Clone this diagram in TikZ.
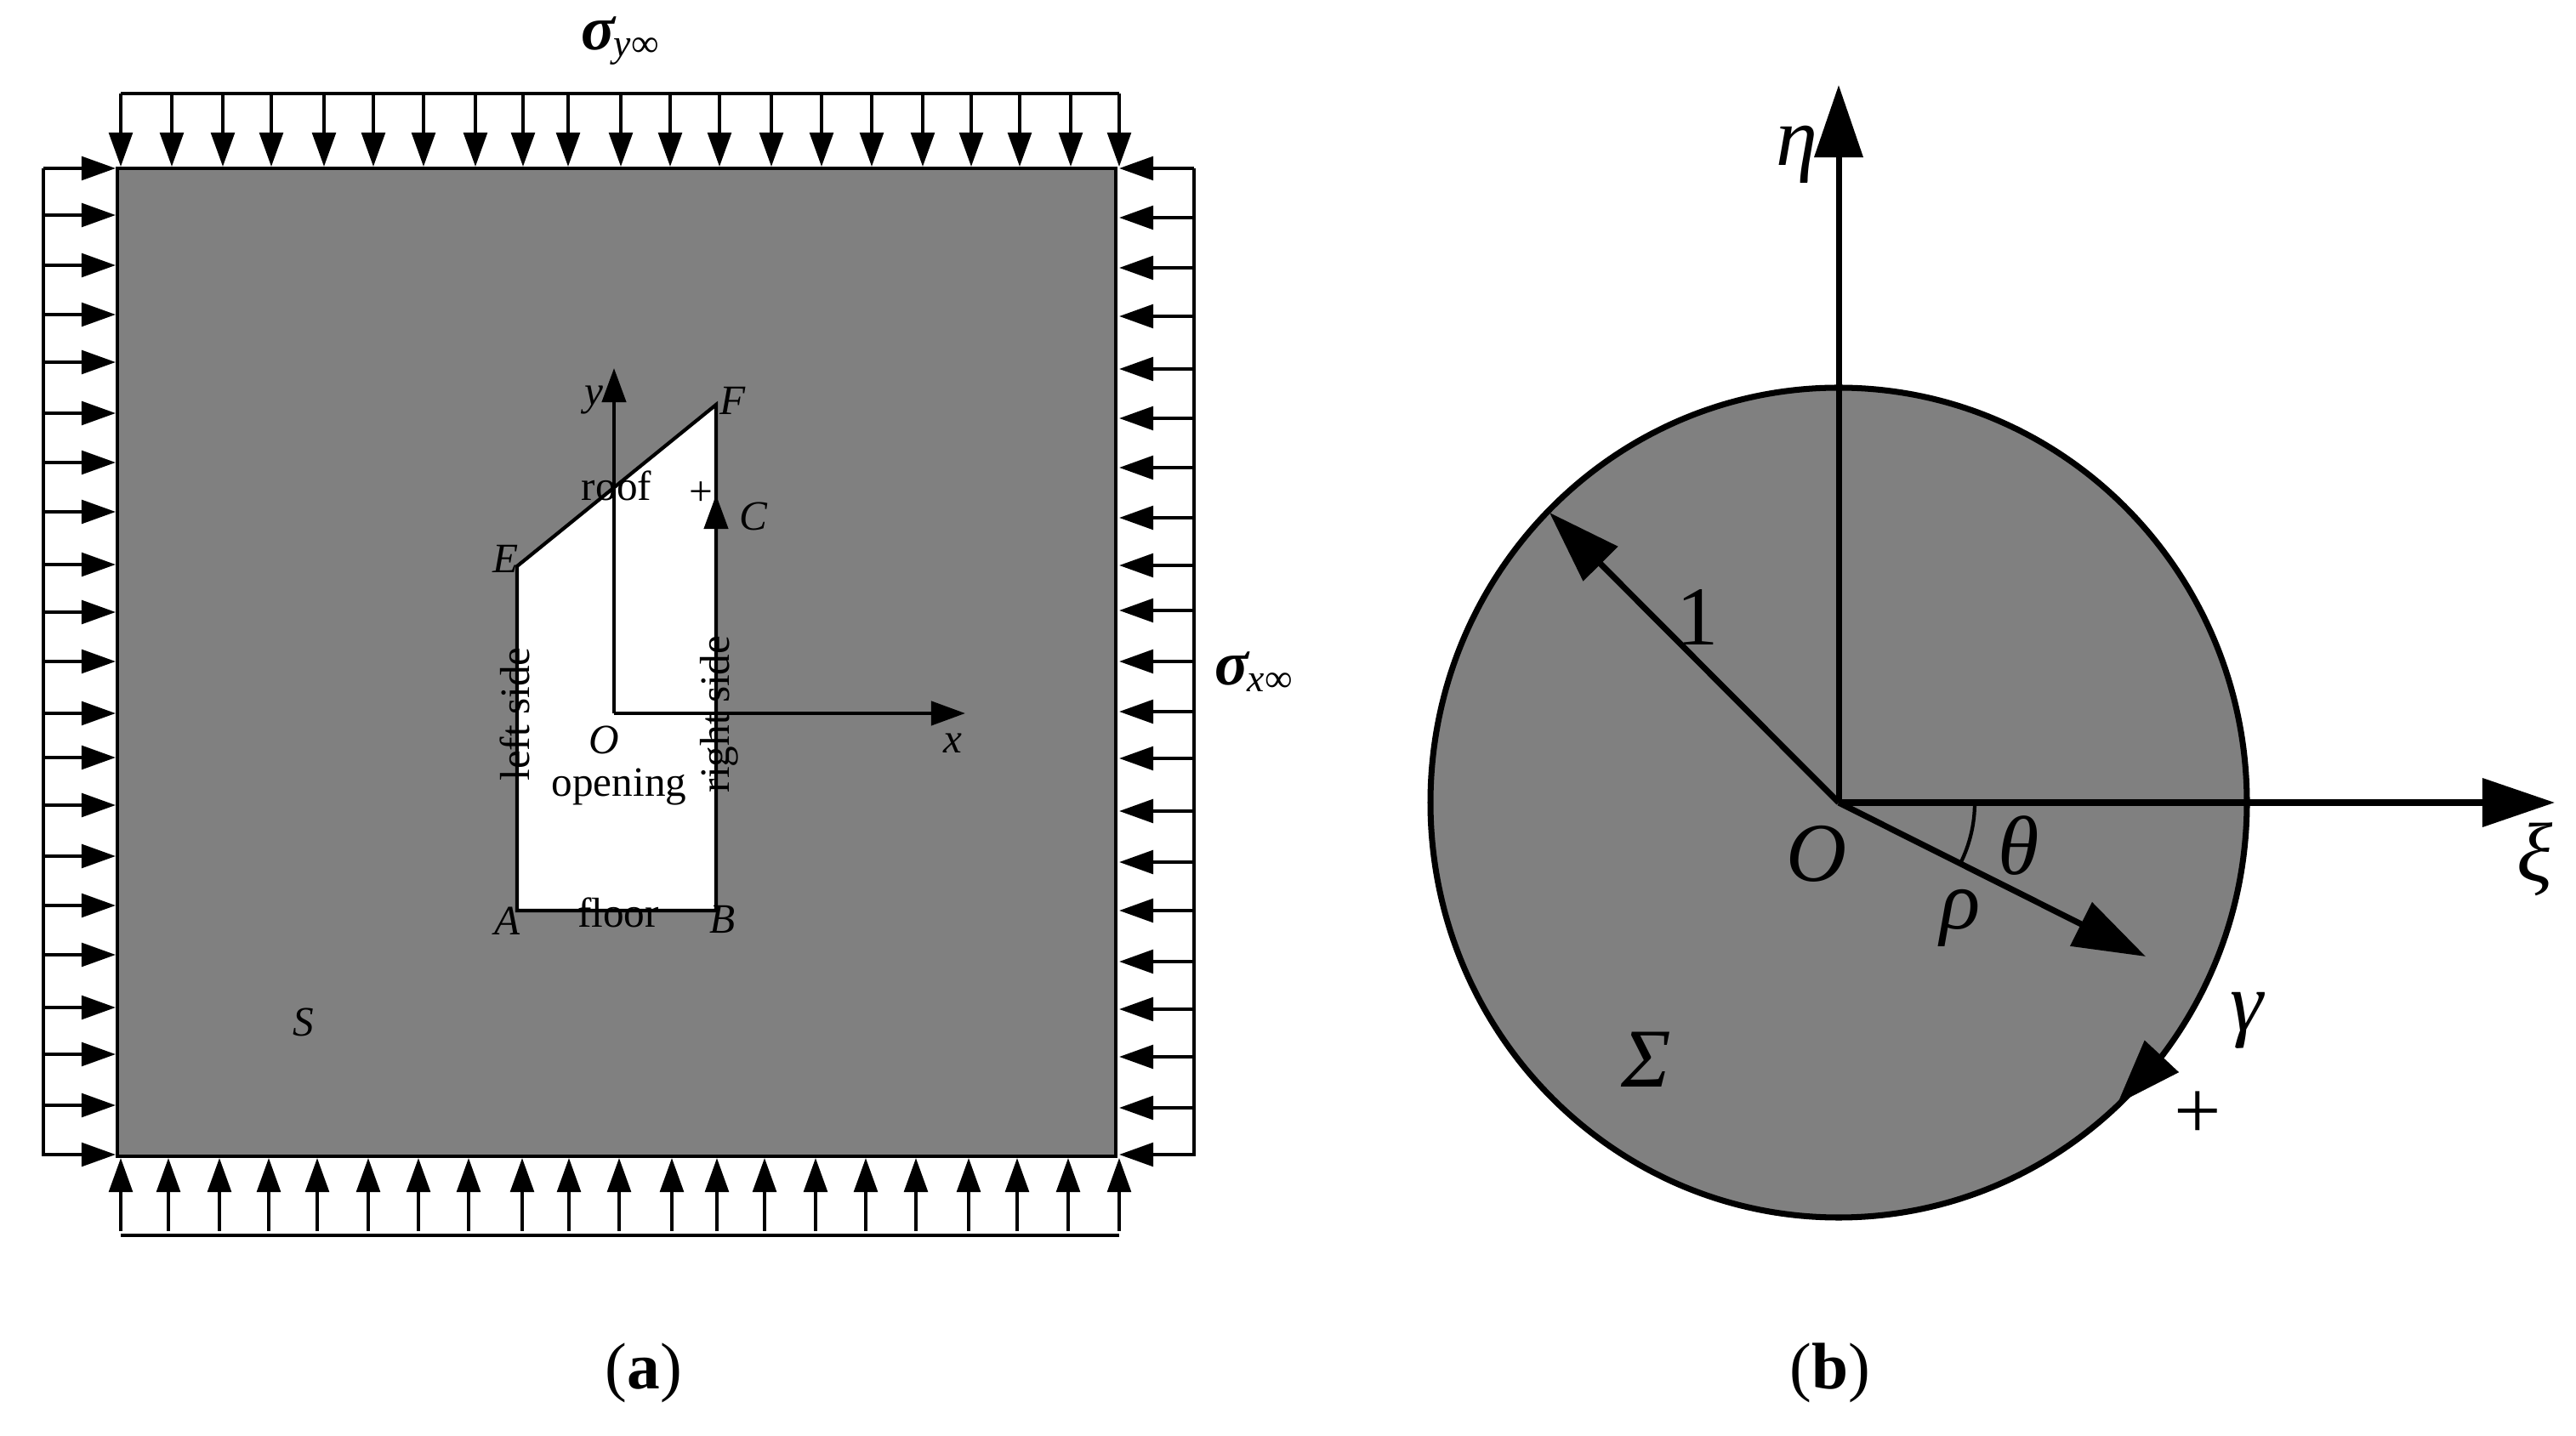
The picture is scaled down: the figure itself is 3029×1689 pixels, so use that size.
\documentclass[tikz,border=0pt]{standalone}
\usepackage{amsmath}
\usepackage{fontspec}
\setmainfont{Liberation Serif}
\usepackage{tikz}
\usetikzlibrary{arrows.meta}
\colorlet{MyGray}{black!50}
\newcommand{\smallfont}{\fontsize{14}{16}\selectfont}
\newcommand{\bigfont}{\fontsize{28}{32}\selectfont}
\newcommand{\capfont}{\fontsize{22}{26}\selectfont}
\newcommand{\sigmafont}{\fontsize{21}{24}\selectfont}
\newcommand{\subfont}{\fontsize{13}{15}\selectfont}
\newcommand{\stresslabel}[1]{{\sigmafont\bfseries\itshape σ}\raisebox{-2.2pt}{\subfont\hspace{-0.5pt}\textit{#1}∞}}

\begin{document}
\begin{tikzpicture}[
x=0.01cm,y=-0.01cm,
every node/.style={inner sep=0pt,font=\smallfont},
Stress/.style={line width=1.15pt,-{Triangle[length=4mm, width=2.75mm]}},
Frame/.style={line width=1.15pt},
Thin/.style={line width=1.2pt},
Thick/.style={line width=2pt},
SmallHead/.style={-{Triangle[length=4mm, width=2.8mm]}},
BigHead/.style={-{Triangle[length=8.5mm, width=5.6mm]}},
Big/.style={font=\bigfont},
Cap/.style={font=\capfont}
]
\useasboundingbox (0,0) rectangle (3029,1689);

%plate
\coordinate (P1) at (138,198);
\coordinate (P2) at (1312,198);
\coordinate (P3) at (1312,1360);
\coordinate (P4) at (138,1360);
\draw[Thin,fill=MyGray] (P1)--(P2)--(P3)--(P4)--cycle;

%load frames
\coordinate (T1) at (142,110);
\coordinate (T2) at (1316,110);
\coordinate (D1) at (142,1453);
\coordinate (D2) at (1316,1453);
\coordinate (L1) at (51,198);
\coordinate (L2) at (51,1360);
\coordinate (R1) at (1404,198);
\coordinate (R2) at (1404,1360);
\draw[Frame] (T1)--(T2);
\draw[Frame] (D1)--(D2);
\draw[Frame] (L1)--(L2);
\draw[Frame] (R1)--(R2);

%hand placed arrows: top x, bottom x, left y, right y
\foreach \Xt/\Xd/\Yl/\Yr [count=\i] in {
142/142/198/198, 202/198/253/256, 262/258/312/315, 319/316/370/372,
381/373/426/434, 439/433/486/492, 498/492/544/550, 559/551/602/609,
615/614/664/665, 668/669/720/718, 730/728/778/778, 788/790/839/837,
846/843/891/892, 907/899/947/954, 966/959/1007/1014, 1025/1018/1065/1071,
1085/1077/1123/1131, 1142/1139/1185/1187, 1199/1196/1240/1243,
1259/1256/1300/1303, 1316/1316/1358/1358}{
\coordinate (a\i) at (\Xt,110);
\coordinate (b\i) at (\Xt,196);
\coordinate (c\i) at (\Xd,1448);
\coordinate (d\i) at (\Xd,1362);
\coordinate (e\i) at (51,\Yl);
\coordinate (f\i) at (136,\Yl);
\coordinate (g\i) at (1404,\Yr);
\coordinate (h\i) at (1316,\Yr);
\draw[Stress] (a\i)--(b\i);
\draw[Stress] (c\i)--(d\i);
\draw[Stress] (e\i)--(f\i);
\draw[Stress] (g\i)--(h\i);
}

%opening
\coordinate (A) at (608,1071);
\coordinate (B) at (842,1071);
\coordinate (F) at (842,476);
\coordinate (E) at (608,666);
\coordinate (C) at (842,582);
\coordinate (O) at (722,839);
\coordinate (X) at (1135,839);
\coordinate (Y) at (722,433);
\draw[Thin,fill=white] (A)--(B)--(F)--(E)--cycle;
\draw[Thin,SmallHead] (B)--(C);
\draw[Thin,SmallHead] (O)--(X);
\draw[Thin,SmallHead] (O)--(Y);

\node[anchor=base west] (sy) at (683,59) {\stresslabel{y}};
\node[anchor=base west] (sx) at (1428,806) {\stresslabel{x}};
\node (ly) at (698,471) {\textit{y}};
\node (lF) at (862,471) {\textit{F}};
\node (roof) at (725,571) {roof};
\node (plus) at (824,581) {+};
\node (lC) at (886,607) {\textit{C}};
\node (lE) at (595,657) {\textit{E}};
\node[rotate=90] (left) at (605,840) {left side};
\node[rotate=90] (right) at (846,840) {right side};
\node (lO) at (710,870) {\textit{O}};
\node (lx) at (1120,874) {\textit{x}};
\node (open) at (728,926) {opening};
\node (lA) at (597,1083) {\textit{A}};
\node (floor) at (727,1073) {floor};
\node (lB) at (850,1081) {\textit{B}};
\node (lS) at (357,1202) {\textit{S}};
\node[Cap] (capa) at (757,1615) {(\textbf{a})};

%circle
\coordinate (Q) at (2162,944);
\coordinate (Q1) at (1822,603);
\coordinate (Q2) at (2523,1125);
\coordinate (Q3) at (3004,944);
\coordinate (Q4) at (2162,100);
\coordinate (G1) at (2545,1239);
\coordinate (G2) at (2490,1298);
\draw[Thick,fill=MyGray] (Q) ellipse [x radius=480,y radius=488];
\draw[Thick,BigHead] (Q)--(Q1);
\draw[Thick,BigHead] (Q)--(Q2);
\draw[Thick,BigHead] (Q)--(Q3);
\draw[Thick,BigHead] (Q)--(Q4);
\draw[Thin] (2322,944) arc [start angle=0,end angle=26.6,radius=160];
\draw[line width=0.1pt,-{Triangle[length=7.6mm, width=5.5mm]}] (G1)--(G2);

\node[Big] (eta) at (2113,182) {\textit{η}};
\node[Big] (one) at (1996,726) {1};
\node[Big] (lQ) at (2136,1004) {\textit{O}};
\node[Big] (theta) at (2374,995) {\textit{θ}};
\node[Big] (rho) at (2305,1080) {\textit{ρ}};
\node[Big] (gam) at (2643,1200) {\textit{γ}};
\node[Big] (plus2) at (2584,1312) {+};
\node[Big] (xi) at (2981,1011) {\textit{ξ}};
\node[Big] (sig) at (1936,1246) {\textit{Σ}};
\node[Cap] (capb) at (2152,1615) {(\textbf{b})};

\end{tikzpicture}
\end{document}
